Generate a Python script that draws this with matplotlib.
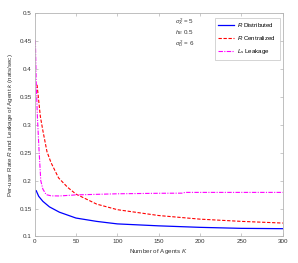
import matplotlib
matplotlib.use("Agg")
import matplotlib.pyplot as plt

# data
k_dist = [2, 5, 10, 18, 30, 50, 75, 100, 150, 200, 250, 300]
r_dist = [0.182, 0.172, 0.163, 0.153, 0.1435, 0.133, 0.127, 0.1225, 0.119, 0.1163, 0.1145, 0.1139]

k_cent = [3, 7, 10, 15, 20, 29, 40, 50, 75, 100, 150, 200, 250, 300]
r_cent = [0.372, 0.315, 0.29, 0.252, 0.232, 0.205, 0.188, 0.176, 0.158, 0.148, 0.1375, 0.131, 0.127, 0.124]

k_leak = [1, 2, 3.4, 5.4, 7.5, 10, 14, 20, 30, 50, 100, 150, 178, 182, 300]
l_leak = [0.452, 0.375, 0.315, 0.255, 0.2, 0.185, 0.175, 0.1728, 0.1726, 0.1745, 0.1765, 0.1774, 0.1776, 0.179, 0.179]

x_ticks = [0, 50, 100, 150, 200, 250, 300]
y_ticks = [0.1, 0.15, 0.2, 0.25, 0.3, 0.35, 0.4, 0.45, 0.5]

plt.rcParams['font.family'] = ['Liberation Sans', 'DejaVu Sans']
plt.rcParams['mathtext.fontset'] = 'custom'
plt.rcParams['mathtext.rm'] = 'Liberation Sans'
plt.rcParams['mathtext.it'] = 'Liberation Sans:italic'

fig = plt.figure(figsize=(2.98, 2.63), dpi=100)
ax = fig.add_axes([0.116, 0.101, 0.833, 0.848])

ax.plot(k_dist, r_dist, color='blue', lw=0.9, label='$R$ Distributed')
ax.plot(k_cent, r_cent, color='red', lw=0.8, ls=(0, (3, 1.5)), label='$R$ Centralized')
ax.plot(k_leak, l_leak, color='magenta', lw=0.8, ls=(0, (4, 1.2, 1, 1.2)), label='$L_s$ Leakage')

ax.set_xlim(0, 300)
ax.set_ylim(0.1, 0.5)
ax.set_xticks(x_ticks)
ax.set_yticks(y_ticks)
ax.set_yticklabels([f"{v:g}" for v in y_ticks])

for s in ax.spines.values():
    s.set_color('#b4b4b4')
    s.set_linewidth(0.6)
ax.tick_params(direction='in', length=2, width=0.5, color='#b4b4b4',
               labelsize=4.5, labelcolor='#333333', top=True, right=True, pad=2)

ax.set_xlabel('Number of Agents $K$', fontsize=4.5, color='#333333', labelpad=2)
ax.set_ylabel('Per-user Rate $R$ and Leakage of Agent $k$ (nats/sec)', fontsize=4.5,
              color='#333333', labelpad=3)

ax.text(0.565, 0.965, '$\\sigma_X^2$ = 5', transform=ax.transAxes, fontsize=4.5,
        ha='left', va='center', color='#333333')
ax.text(0.565, 0.912, '$h_E$ 0.5', transform=ax.transAxes, fontsize=4.5,
        ha='left', va='center', color='#333333')
ax.text(0.565, 0.866, '$\\sigma_D^2$ = 6', transform=ax.transAxes, fontsize=4.5,
        ha='left', va='center', color='#333333')

leg = ax.legend(loc='upper right', fontsize=4.4, frameon=True, fancybox=False,
                borderpad=0.6, handlelength=2.6, handletextpad=0.5, labelspacing=0.8,
                bbox_to_anchor=(1.0, 0.995))
leg.get_frame().set_edgecolor('#b4b4b4')
leg.get_frame().set_linewidth(0.5)

fig.savefig('out.png', dpi=100)
